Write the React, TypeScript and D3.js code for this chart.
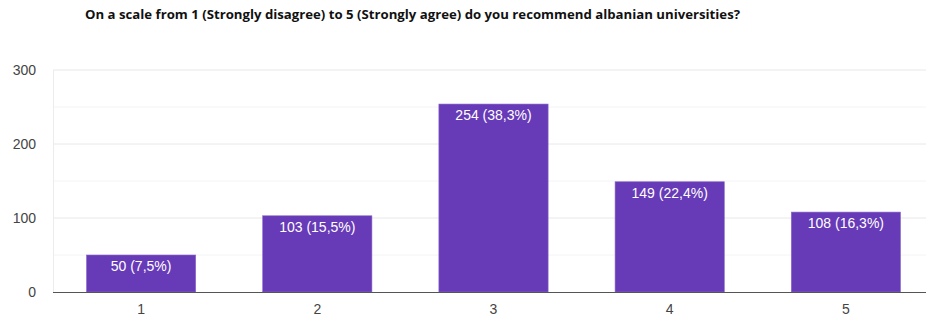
import React from "react";
import * as d3 from "d3";

const title = "On a scale from 1 (Strongly disagree) to 5 (Strongly agree) do you recommend albanian universities?";
const categories = ["1", "2", "3", "4", "5"];
const counts = [50, 103, 254, 149, 108];
const percents = ["7,5%", "15,5%", "38,3%", "22,4%", "16,3%"];
const yTicks = [0, 100, 200, 300];
const minorTicks = [50, 150, 250];

const W = 926;
const H = 320;

export default function App() {
  const x = d3.scaleBand<string>().domain(categories).range([53, 934]).paddingInner(0.38).paddingOuter(0.19);
  const y = d3.scaleLinear().domain([0, 300]).range([292, 70]);
  return (
    <svg width={W} height={H} style={{ position: "absolute", left: 0, top: 0, background: "#fff" }}>
      <rect width={W} height={H} fill="#fff" />
      <text x={85} y={19} fontFamily="'Open Sans', sans-serif" fontWeight="bold" fontSize={12.5} fill="#111"
        textLength={655} lengthAdjust="spacingAndGlyphs">{title}</text>
      {minorTicks.map((t) => (
        <line key={"m" + t} x1={53} x2={W} y1={y(t)} y2={y(t)} stroke="#f4f4f4" strokeWidth={1} />
      ))}
      {yTicks.filter((t) => t > 0).map((t) => (
        <line key={"g" + t} x1={53} x2={W} y1={y(t)} y2={y(t)} stroke="#e8e8e8" strokeWidth={1} />
      ))}
      <line x1={53.5} x2={53.5} y1={y(300)} y2={y(0)} stroke="#ececec" strokeWidth={1} />
      {yTicks.map((t) => (
        <text key={"t" + t} x={36} y={y(t) + 5} textAnchor="end" fontFamily="Arial, 'Liberation Sans', sans-serif"
          fontSize={14} fill="#444">{t}</text>
      ))}
      {categories.map((c, i) => (
        <g key={c}>
          <rect x={x(c)!} y={y(counts[i])} width={x.bandwidth()} height={y(0) - y(counts[i])} fill="#673ab7"
            stroke="#8c6cc9" strokeWidth={0.6} />
          <text x={x(c)! + x.bandwidth() / 2} y={y(counts[i]) + 16} textAnchor="middle"
            fontFamily="Arial, 'Liberation Sans', sans-serif" fontSize={14} fill="#fff">
            {`${counts[i]} (${percents[i]})`}
          </text>
          <text x={x(c)! + x.bandwidth() / 2} y={314} textAnchor="middle"
            fontFamily="Arial, 'Liberation Sans', sans-serif" fontSize={14} fill="#444">{c}</text>
        </g>
      ))}
      <line x1={53} x2={W} y1={y(0) + 0.5} y2={y(0) + 0.5} stroke="#555" strokeWidth={1.2} />
    </svg>
  );
}
